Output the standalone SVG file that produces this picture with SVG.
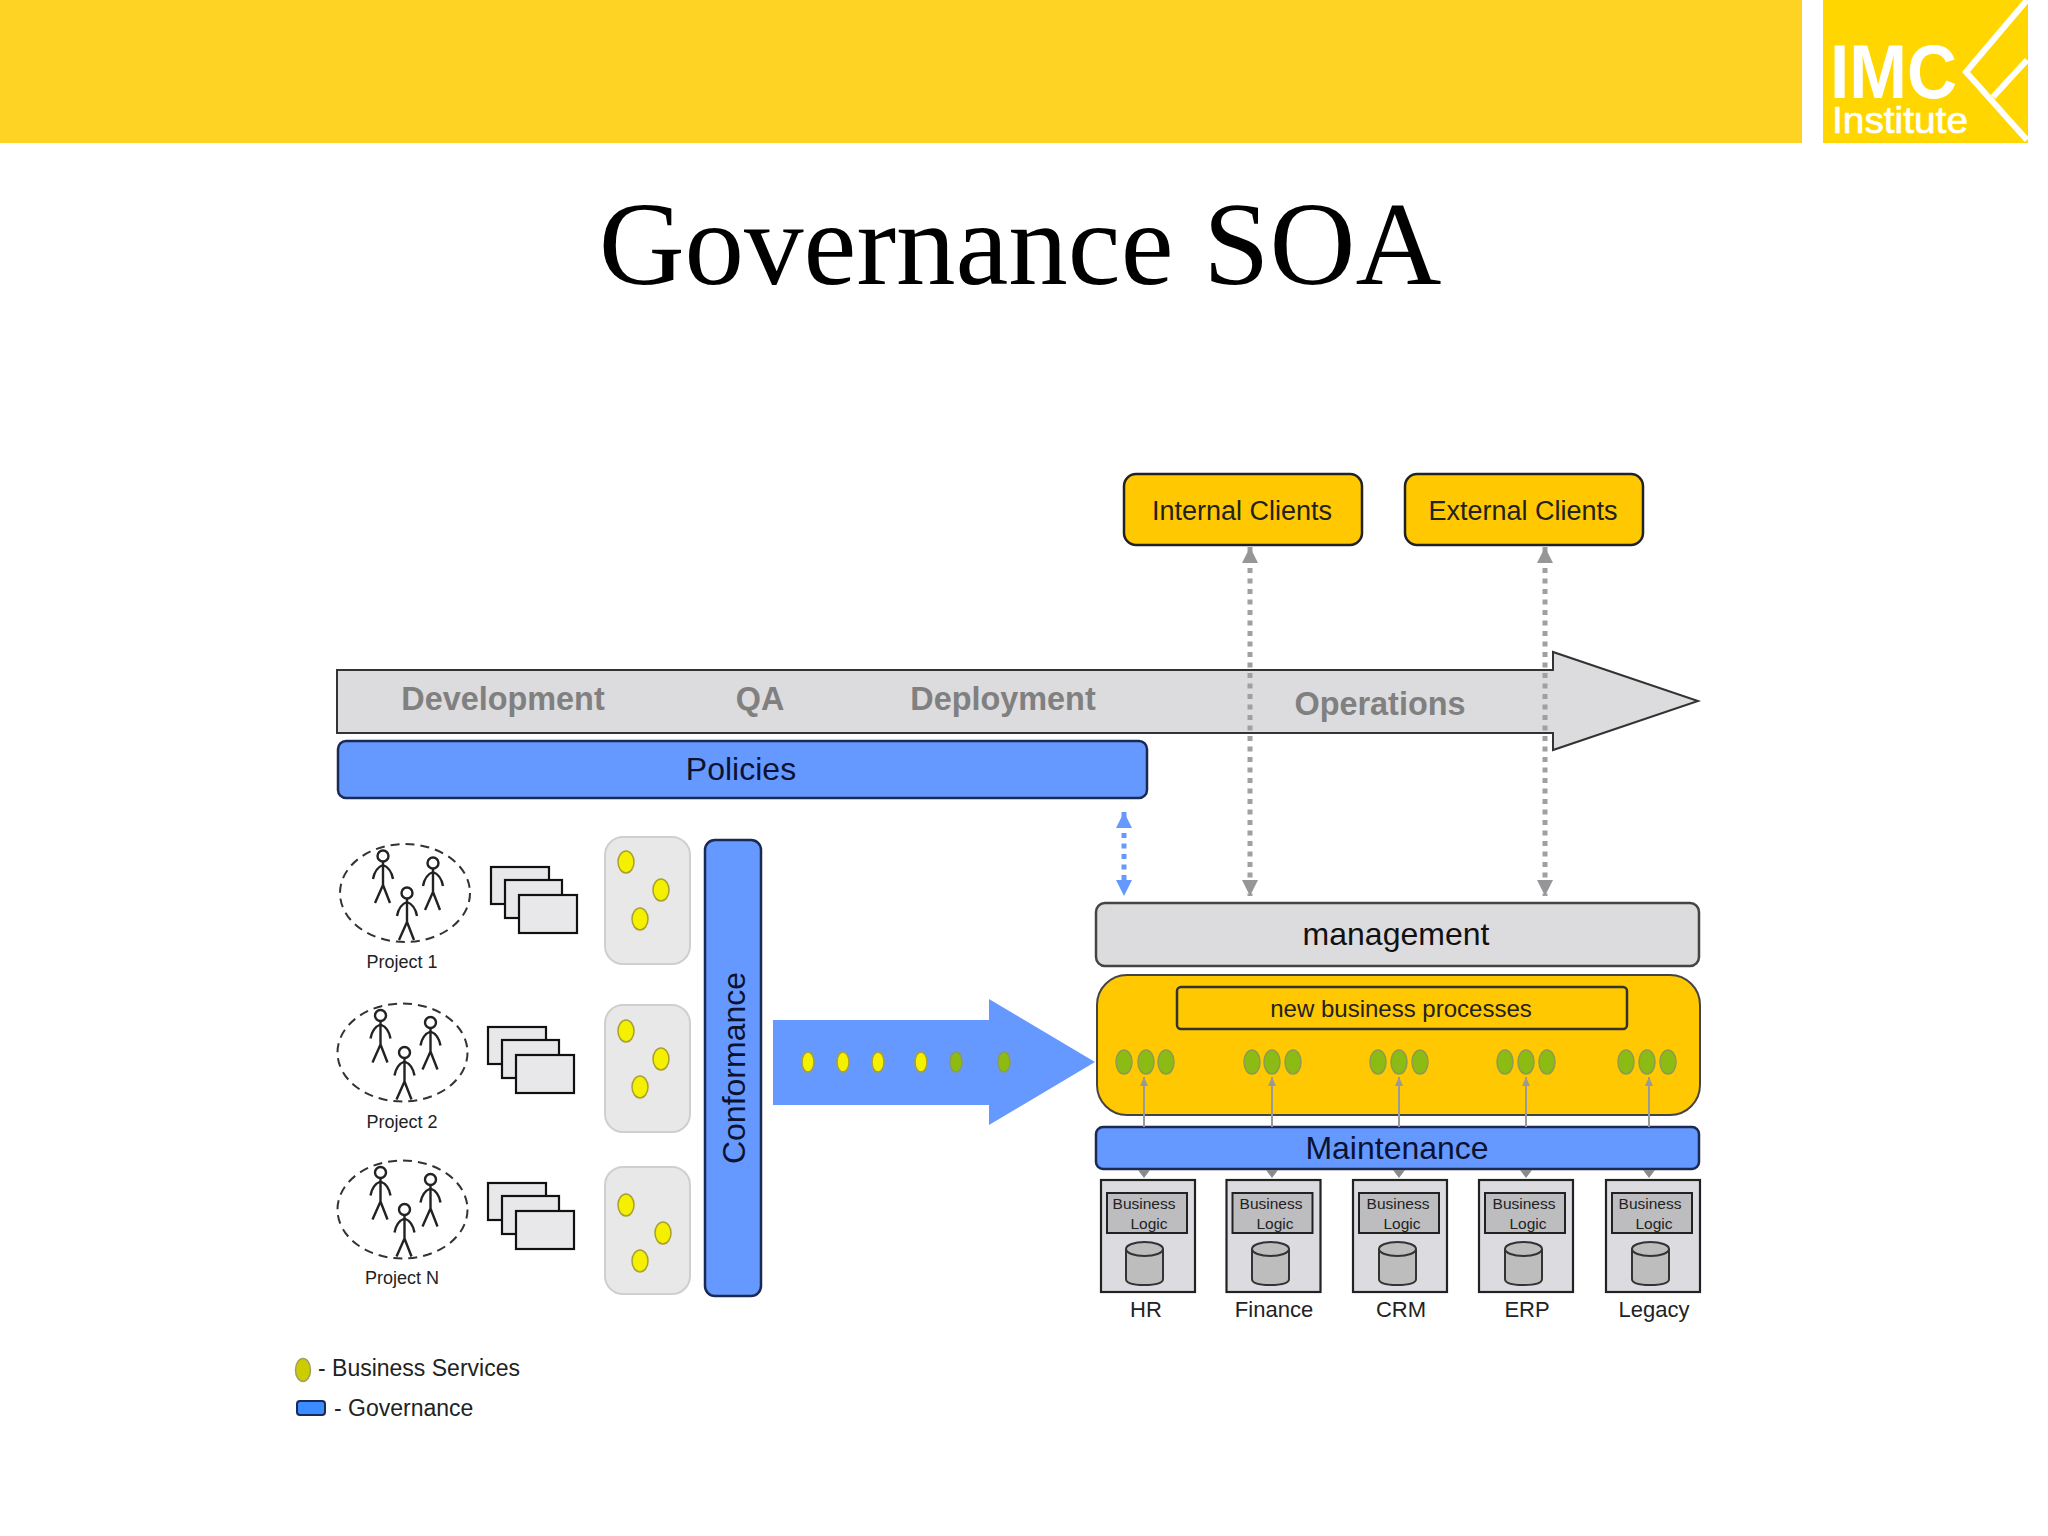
<svg xmlns="http://www.w3.org/2000/svg" width="2048" height="1536" viewBox="0 0 2048 1536">
<style>
text{font-family:"Liberation Sans",Arial,sans-serif;fill:#111}
.m{text-anchor:middle}
.phase{font-weight:bold;font-size:32.400px;fill:#808080;text-anchor:middle}
.gov{fill:#6699ff;stroke:#1a2a55;stroke-width:2.5}
.big{font-size:32px;text-anchor:middle;fill:#0c1230}
.client{fill:#ffc800;stroke:#222;stroke-width:2.5}
.cl{font-size:27px;text-anchor:middle;fill:#222}
.panel{fill:#e8e8e8;stroke:#cfcfcf;stroke-width:2}
.doc{fill:#e8e8ea;stroke:#111;stroke-width:2.2}
.yd{fill:#f5f000;stroke:#a8a030;stroke-width:1.5}
.gd{fill:#8cbc14;stroke:#8c9c50;stroke-width:1.5}
.bl{font-size:15.5px;text-anchor:middle;fill:#222}
.sys{fill:#dcdce0;stroke:#222;stroke-width:2.2}
.sysin{fill:#bdbdc0;stroke:#222;stroke-width:2}
.cyl{fill:#bdbdbd;stroke:#333;stroke-width:2}
.lab{font-size:22px;text-anchor:middle;fill:#222}
.pj{font-size:18px;text-anchor:middle;fill:#222}
.circ{fill:none;stroke:#333;stroke-width:2;stroke-dasharray:9 6}
.fig{fill:none;stroke:#222;stroke-width:2.4}
.dot{fill:none;stroke:#a0a0a2;stroke-width:5;stroke-dasharray:5 5.5}
.dotb{fill:none;stroke:#6699ff;stroke-width:5;stroke-dasharray:5 5.5}
.thin{stroke:#9a9a9a;stroke-width:2;fill:none;marker-end:url(#ah)}
.hd{fill:#8a8a8a}
</style>
<defs>
<marker id="gh" markerUnits="userSpaceOnUse" markerWidth="16" markerHeight="18" refX="16" refY="8" orient="auto-start-reverse"><path d="M0 0L16 8L0 16Z" fill="#969698"/></marker>
<marker id="bh" markerUnits="userSpaceOnUse" markerWidth="16" markerHeight="18" refX="16" refY="8" orient="auto-start-reverse"><path d="M0 0L16 8L0 16Z" fill="#6699ff"/></marker>
<marker id="ah" markerUnits="userSpaceOnUse" markerWidth="10" markerHeight="10" refX="9" refY="4" orient="auto"><path d="M0 0L9 4L0 8Z" fill="#9a9a9a"/></marker>
<g id="person"><circle cx="0" cy="0" r="5.500" class="fig"/><path class="fig" d="M0 5.500V29M0 9Q-8 12-10 23M0 9Q8 12 10 23M0 29L-8 47M0 29L7 47"/></g>
<g id="people"><ellipse class="circ" cx="0" cy="0" rx="65" ry="49"/><use href="#person" x="-22" y="-37"/><use href="#person" x="28" y="-30"/><use href="#person" x="2" y="0"/></g>
<g id="docs"><rect class="doc" x="0" y="0" width="58" height="37"/><rect class="doc" x="14" y="13" width="57" height="38"/><rect class="doc" x="28" y="28" width="58" height="38"/></g>
<g id="panelbg"><rect class="panel" x="0" y="0" width="85" height="127" rx="18"/></g>
<g id="cylinder"><path class="cyl" d="M1126 1249V1279Q1126 1285 1144 1285Q1163 1285 1163 1279V1249"/><ellipse class="cyl" cx="1144.500" cy="1249" rx="18.500" ry="7"/></g>
<g id="sysbox"><rect class="sys" x="1101" y="1180" width="94" height="112"/><rect class="sysin" x="1107" y="1193" width="80" height="40"/></g>
</defs>

<g id="banner"><rect x="0" y="0" width="1802" height="143" fill="#ffd324"/></g>
<g id="logo">
<rect x="1823" y="0" width="205" height="143" fill="#ffd600"/>
<path d="M2027 0L1966 72L2027 140M1993 97L2027 60" fill="none" stroke="#fff" stroke-width="6"/>
<text x="1830" y="98" font-size="76" font-weight="bold" textLength="127" lengthAdjust="spacingAndGlyphs" style="fill:#fff">IMC</text>
<text x="1832" y="133" font-size="37" textLength="136" lengthAdjust="spacingAndGlyphs" style="fill:#fff;stroke:#fff;stroke-width:.7">Institute</text>
</g>
<text id="title" x="1020" y="284" font-size="119" class="m" style="font-family:'Liberation Serif',serif;fill:#000">Governance SOA</text>

<g id="lifecycle">
<path d="M337 670H1553V652L1698 701L1553 750V733H337Z" fill="#dcdbdd" stroke="#333" stroke-width="2"/>
<text class="phase" x="503" y="710">Development</text>
<text class="phase" x="760" y="710">QA</text>
<text class="phase" x="1003" y="710">Deployment</text>
<text class="phase" x="1380" y="715">Operations</text>
</g>
<g id="policies"><rect class="gov" x="338" y="741" width="809" height="57" rx="8"/><text class="big" x="741" y="780">Policies</text></g>
<g id="internal-clients"><rect class="client" x="1124" y="474" width="238" height="71" rx="12"/><text class="cl" x="1242" y="520">Internal Clients</text></g>
<g id="external-clients"><rect class="client" x="1405" y="474" width="238" height="71" rx="12"/><text class="cl" x="1523" y="520">External Clients</text></g>

<g id="project-1"><use href="#people" x="405" y="893"/><use href="#docs" x="491" y="867"/><text class="pj" x="402" y="968">Project 1</text></g>
<g id="project-2"><use href="#people" x="402.500" y="1052.500"/><use href="#docs" x="488" y="1027"/><text class="pj" x="402" y="1128">Project 2</text></g>
<g id="project-n"><use href="#people" x="402.500" y="1209.500"/><use href="#docs" x="488" y="1183"/><text class="pj" x="402" y="1284">Project N</text></g>

<g id="services-1"><use href="#panelbg" x="605" y="837"/><ellipse class="yd" cx="626" cy="862" rx="8" ry="11"/><ellipse class="yd" cx="661" cy="890" rx="8" ry="11"/><ellipse class="yd" cx="640" cy="919" rx="8" ry="11"/></g>
<g id="services-2"><use href="#panelbg" x="605" y="1005"/><ellipse class="yd" cx="626" cy="1031" rx="8" ry="11"/><ellipse class="yd" cx="661" cy="1059" rx="8" ry="11"/><ellipse class="yd" cx="640" cy="1087" rx="8" ry="11"/></g>
<g id="services-3"><use href="#panelbg" x="605" y="1167"/><ellipse class="yd" cx="626" cy="1205" rx="8" ry="11"/><ellipse class="yd" cx="663" cy="1233" rx="8" ry="11"/><ellipse class="yd" cx="640" cy="1261" rx="8" ry="11"/></g>

<g id="conformance"><rect class="gov" x="705" y="840" width="56" height="456" rx="10"/><text class="big" transform="translate(745 1068) rotate(-90)">Conformance</text></g>
<g id="flow-arrow">
<path d="M773 1020H989V999L1095 1062L989 1125V1105H773Z" fill="#6699ff"/>
<ellipse class="yd" cx="808" cy="1062" rx="6" ry="10"/><ellipse class="yd" cx="843" cy="1062" rx="6" ry="10"/><ellipse class="yd" cx="878" cy="1062" rx="6" ry="10"/><ellipse class="yd" cx="921" cy="1062" rx="6" ry="10"/>
<ellipse class="gd" cx="956" cy="1062" rx="6" ry="10"/><ellipse class="gd" cx="1004" cy="1062" rx="6" ry="10"/>
</g>

<g id="management"><rect x="1096" y="903" width="603" height="63" rx="9" fill="#dcdbdd" stroke="#444" stroke-width="2.500"/><text class="big" x="1396" y="945" style="fill:#111">management</text></g>
<g id="process-layer"><rect x="1097" y="975" width="603" height="140" rx="30" fill="#ffc800" stroke="#444" stroke-width="2"/>
<rect x="1177" y="987" width="450" height="42" rx="4" fill="#ffc800" stroke="#333" stroke-width="2.500"/>
<text x="1401" y="1017" font-size="24" class="m" style="fill:#222">new business processes</text>
<ellipse class="gd" cx="1124" cy="1062" rx="8" ry="12"/><ellipse class="gd" cx="1146" cy="1062" rx="8" ry="12"/><ellipse class="gd" cx="1166" cy="1062" rx="8" ry="12"/>
<ellipse class="gd" cx="1252" cy="1062" rx="8" ry="12"/><ellipse class="gd" cx="1272" cy="1062" rx="8" ry="12"/><ellipse class="gd" cx="1293" cy="1062" rx="8" ry="12"/>
<ellipse class="gd" cx="1378" cy="1062" rx="8" ry="12"/><ellipse class="gd" cx="1399" cy="1062" rx="8" ry="12"/><ellipse class="gd" cx="1420" cy="1062" rx="8" ry="12"/>
<ellipse class="gd" cx="1505" cy="1062" rx="8" ry="12"/><ellipse class="gd" cx="1526" cy="1062" rx="8" ry="12"/><ellipse class="gd" cx="1547" cy="1062" rx="8" ry="12"/>
<ellipse class="gd" cx="1626" cy="1062" rx="8" ry="12"/><ellipse class="gd" cx="1647" cy="1062" rx="8" ry="12"/><ellipse class="gd" cx="1668" cy="1062" rx="8" ry="12"/>
</g>
<g id="maintenance"><rect class="gov" x="1096" y="1127" width="603" height="42" rx="7"/><text class="big" x="1397" y="1159">Maintenance</text></g>

<g id="sys-hr"><use href="#sysbox"/><text class="bl" x="1144" y="1209">Business</text><text class="bl" x="1149" y="1229">Logic</text><use href="#cylinder"/><text class="lab" x="1146" y="1317">HR</text></g>
<g id="sys-finance"><use href="#sysbox" x="125.500"/><text class="bl" x="1271" y="1209">Business</text><text class="bl" x="1275" y="1229">Logic</text><use href="#cylinder" x="126"/><text class="lab" x="1274" y="1317">Finance</text></g>
<g id="sys-crm"><use href="#sysbox" x="252"/><text class="bl" x="1398" y="1209">Business</text><text class="bl" x="1402" y="1229">Logic</text><use href="#cylinder" x="253"/><text class="lab" x="1401" y="1317">CRM</text></g>
<g id="sys-erp"><use href="#sysbox" x="378"/><text class="bl" x="1524" y="1209">Business</text><text class="bl" x="1528" y="1229">Logic</text><use href="#cylinder" x="379"/><text class="lab" x="1527" y="1317">ERP</text></g>
<g id="sys-legacy"><use href="#sysbox" x="505"/><text class="bl" x="1650" y="1209">Business</text><text class="bl" x="1654" y="1229">Logic</text><use href="#cylinder" x="506"/><text class="lab" x="1654" y="1317">Legacy</text></g>

<g id="connectors">
<path class="dot" d="M1250 547V896" marker-start="url(#gh)" marker-end="url(#gh)"/>
<path class="dot" d="M1545 547V896" marker-start="url(#gh)" marker-end="url(#gh)"/>
<path class="dotb" d="M1124 812V896" marker-start="url(#bh)" marker-end="url(#bh)"/>
<path class="thin" d="M1144 1127V1077"/><path class="thin" d="M1272 1127V1077"/><path class="thin" d="M1399 1127V1077"/><path class="thin" d="M1526 1127V1077"/><path class="thin" d="M1649 1127V1077"/>
<path class="hd" d="M1138 1170H1150L1144 1178Z"/><path class="hd" d="M1266 1170H1278L1272 1178Z"/><path class="hd" d="M1393 1170H1405L1399 1178Z"/><path class="hd" d="M1520 1170H1532L1526 1178Z"/><path class="hd" d="M1643 1170H1655L1649 1178Z"/>
</g>

<g id="legend">
<ellipse cx="303" cy="1370" rx="7.500" ry="11.500" fill="#cccc00" stroke="#a0a060" stroke-width="1.500"/>
<text x="318" y="1376" font-size="23" style="fill:#222">- Business Services</text>
<rect x="297" y="1401" width="28" height="14" rx="3" fill="#3b8cff" stroke="#1a2a55" stroke-width="2"/>
<text x="334" y="1416" font-size="23" style="fill:#222">- Governance</text>
</g>
</svg>
